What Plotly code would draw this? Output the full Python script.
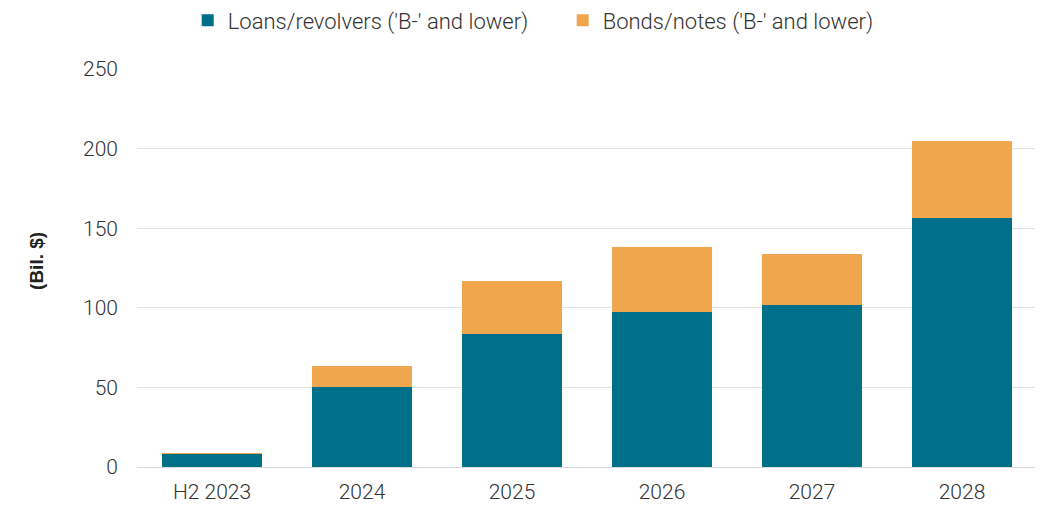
import plotly.graph_objects as go

# Data (billions of dollars)
years = ["H2 2023", "2024", "2025", "2026", "2027", "2028"]
loans = [8.4, 50.1, 83.8, 97.6, 102.0, 156.3]
bonds = [0.3, 13.4, 33.1, 40.7, 31.9, 48.2]

teal = "#006F8A"
orange = "#F0A64C"

fig = go.Figure()
fig.add_trace(go.Bar(x=years, y=loans, name="Loans/revolvers ('B-' and lower)",
                     marker=dict(color=teal, line=dict(width=0))))
fig.add_trace(go.Bar(x=years, y=bonds, name="Bonds/notes ('B-' and lower)",
                     marker=dict(color=orange, line=dict(width=0))))

# the page adds an 8px body margin, so margins are trimmed to match
fig.update_layout(
    barmode="stack",
    bargap=0.333,
    width=1043, height=505,
    margin=dict(l=129, r=14, t=61, b=46, autoexpand=False),
    plot_bgcolor="white", paper_bgcolor="white",
    font=dict(family="Roboto", size=21, color="#333333", weight=300),
    legend=dict(orientation="h", traceorder="normal",
                x=0.473, xanchor="center", y=1.122, yanchor="middle",
                font=dict(size=22, weight=300), itemwidth=30,
                entrywidth=330),
    xaxis=dict(showgrid=False, showline=True, linecolor="#d9d9d9", linewidth=1,
               ticks="", automargin=False, ticklabelstandoff=6),
    yaxis=dict(range=[0, 250], dtick=50, showgrid=True, gridcolor="#e3e3e3",
               gridwidth=1, zeroline=False, ticks="", ticklabelstandoff=18,
               automargin=False),
)

# y axis title as an annotation so it sits where the reference has it
fig.add_annotation(text="<b>(Bil. $)</b>", textangle=-90,
                   xref="paper", yref="paper", x=-0.111, y=0.518,
                   xanchor="center", yanchor="middle", showarrow=False,
                   font=dict(family="Liberation Sans", size=19,
                             color="#222222", weight=700))

fig.write_html("out.html")
